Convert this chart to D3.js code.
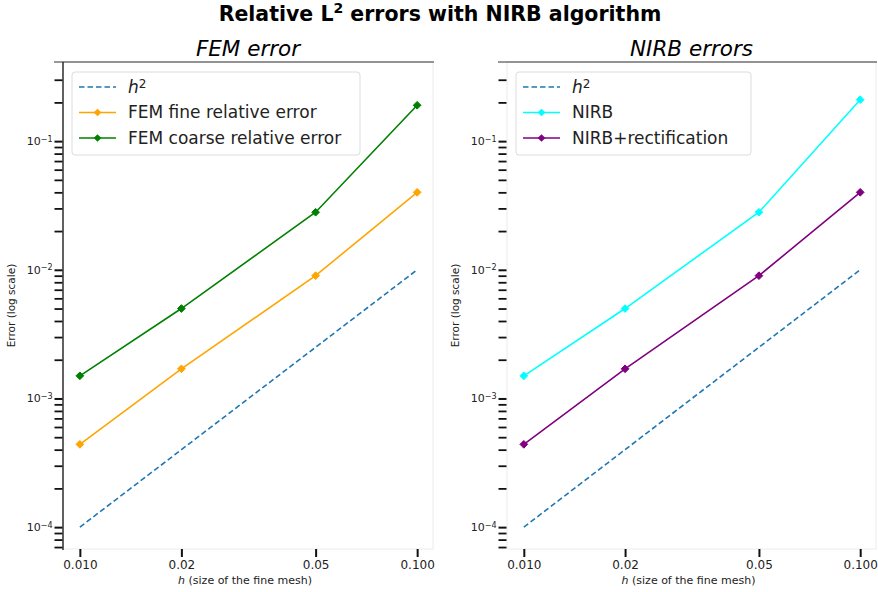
<!DOCTYPE html>
<html>
<head>
<meta charset="utf-8">
<script src="https://cdn.jsdelivr.net/npm/d3@7"></script>
<style>
  body { margin: 0; background: #fff; }
  text { font-family: "DejaVu Sans", sans-serif; }
</style>
</head>
<body>
<svg id="chart"></svg>
<script>
// mesh sizes (x values)
const hValues = [0.01, 0.02, 0.05, 0.1];
const xTickValues = [0.01, 0.02, 0.05, 0.1];
const xTickLabels = ["0.010", "0.02", "0.05", "0.100"];

// series
const h2Values = [1e-4, 4e-4, 2.5e-3, 1e-2];
const femFine = [4.4e-4, 1.7e-3, 9.0e-3, 4.0e-2];
const femCoarse = [1.5e-3, 5.0e-3, 2.8e-2, 0.19];
const nirb = [1.5e-3, 5.0e-3, 2.8e-2, 0.21];
const nirbRect = [4.4e-4, 1.7e-3, 9.0e-3, 4.0e-2];

const yMajorTicks = [1e-4, 1e-3, 1e-2, 1e-1];
const yMajorExp = ["−4", "−3", "−2", "−1"];

const panels = [
  {
    title: "FEM error",
    left: 63,
    right: 433,
    blackLeftSpine: true,
    series: [
      { label: "h2", values: h2Values, color: "#1f77b4", dashed: true },
      { label: "FEM fine relative error", values: femFine, color: "orange" },
      { label: "FEM coarse relative error", values: femCoarse, color: "green" },
    ],
    legendWidth: 288,
  },
  {
    title: "NIRB errors",
    left: 507,
    right: 876,
    blackLeftSpine: false,
    series: [
      { label: "h2", values: h2Values, color: "#1f77b4", dashed: true },
      { label: "NIRB", values: nirb, color: "cyan" },
      { label: "NIRB+rectification", values: nirbRect, color: "purple" },
    ],
    legendWidth: 235,
  },
];

const W = 878, H = 592;
const plotTop = 62, plotBottom = 549;

const svg = d3.select("#chart").attr("width", W).attr("height", H);

// main title
const title = svg.append("text")
  .attr("x", 440)
  .attr("y", 21)
  .attr("text-anchor", "middle")
  .style("font-size", "20.5px")
  .style("font-weight", "bold");
title.append("tspan").text("Relative L");
title.append("tspan").attr("dy", -8).style("font-size", "14px").text("2");
title.append("tspan").attr("dy", 8).text(" errors with NIRB algorithm");

function drawPanel(p) {
  // x: log domain matched to tick positions 0.010 -> left+17, 0.100 -> right-16
  const xscale = d3.scaleLog()
    .domain([Math.pow(10, -2.05), Math.pow(10, -0.953)])
    .range([p.left, p.right]);
  const yscale = d3.scaleLog()
    .domain([Math.pow(10, -4.17), Math.pow(10, -0.385)])
    .range([plotBottom, plotTop]);

  const g = svg.append("g");

  // faint frame (right + bottom + maybe left)
  g.append("rect")
    .attr("x", p.left).attr("y", plotTop)
    .attr("width", p.right - p.left).attr("height", plotBottom - plotTop)
    .attr("fill", "none").attr("stroke", "#ececec").attr("stroke-width", 1);
  // top spine
  g.append("line")
    .attr("x1", p.left - 9).attr("x2", p.right + 1)
    .attr("y1", plotTop).attr("y2", plotTop)
    .attr("stroke", "#333").attr("stroke-width", 1.2);
  if (p.blackLeftSpine) {
    g.append("line")
      .attr("x1", p.left).attr("x2", p.left)
      .attr("y1", plotTop).attr("y2", plotBottom + 1)
      .attr("stroke", "#222").attr("stroke-width", 1.4);
  }

  // y axis: major + minor ticks
  const minor = [];
  for (let e = -5; e <= 0; e++) {
    for (let m = 2; m <= 9; m++) {
      const v = m * Math.pow(10, e);
      const py = yscale(v);
      if (py > plotTop + 3 && py < plotBottom) minor.push(v);
    }
  }
  const yaxisMinor = d3.axisLeft(yscale).tickValues(minor).tickSize(8).tickFormat("");
  const gyMinor = g.append("g").attr("transform", `translate(${p.left - 0.5},0)`).call(yaxisMinor);
  gyMinor.select(".domain").remove();
  gyMinor.selectAll("line").attr("stroke", "#111").attr("stroke-width", 1.8);

  const yaxis = d3.axisLeft(yscale).tickValues(yMajorTicks).tickSize(8).tickFormat("");
  const gy = g.append("g").attr("transform", `translate(${p.left - 0.5},0)`).call(yaxis);
  gy.select(".domain").remove();
  gy.selectAll("line").attr("stroke", "#111").attr("stroke-width", 2);
  gy.selectAll(".tick").each(function (d, i) {
    const t = d3.select(this).append("text")
      .attr("x", -10).attr("dy", "0.32em")
      .attr("text-anchor", "end")
      .attr("fill", "#222")
      .style("font-size", "11px");
    t.append("tspan").text("10");
    t.append("tspan").attr("dy", "-0.45em").style("font-size", "8px").text(yMajorExp[i]);
  });

  // x axis
  const xaxis = d3.axisBottom(xscale).tickValues(xTickValues).tickSize(8)
    .tickFormat((d, i) => xTickLabels[i]);
  const gx = g.append("g").attr("transform", `translate(0,${plotBottom})`).call(xaxis);
  gx.select(".domain").remove();
  gx.selectAll("line").attr("stroke", "#111").attr("stroke-width", 2);
  gx.selectAll("text")
    .attr("y", 11).attr("fill", "#222")
    .style("font-size", "12px");

  // axis labels
  const xl = g.append("text")
    .attr("x", (p.left + p.right) / 2 - 3)
    .attr("y", 584)
    .attr("text-anchor", "middle")
    .attr("fill", "#222")
    .style("font-size", "11px");
  xl.append("tspan").style("font-style", "italic").text("h");
  xl.append("tspan").text(" (size of the fine mesh)");

  g.append("text")
    .attr("transform", `translate(${p.left - 48},${(plotTop + plotBottom) / 2}) rotate(-90)`)
    .attr("text-anchor", "middle")
    .attr("fill", "#222")
    .style("font-size", "10.5px")
    .text("Error (log scale)");

  // subplot title
  g.append("text")
    .attr("x", (p.left + p.right) / 2)
    .attr("y", 56)
    .attr("text-anchor", "middle")
    .style("font-size", "21.5px")
    .style("font-style", "italic")
    .text(p.title);

  // lines
  const line = d3.line()
    .x((d) => xscale(d[0]))
    .y((d) => yscale(d[1]));

  const diamond = d3.symbol().type(d3.symbolDiamond2).size(38);

  p.series.forEach((s) => {
    const pts = hValues.map((h, i) => [h, s.values[i]]);
    g.append("path")
      .datum(pts)
      .attr("d", line)
      .attr("fill", "none")
      .attr("stroke", s.color)
      .attr("stroke-width", 1.6)
      .attr("stroke-dasharray", s.dashed ? "5.5,3" : null);
    if (!s.dashed) {
      g.selectAll(null)
        .data(pts)
        .join("path")
        .attr("d", diamond)
        .attr("transform", (d) => `translate(${xscale(d[0])},${yscale(d[1])})`)
        .attr("fill", s.color)
        .attr("stroke", s.color)
        .attr("stroke-width", 1);
    }
  });

  // legend
  const lx = p.left + 9, ly = 72;
  const lg = g.append("g").attr("transform", `translate(${lx},${ly})`);
  lg.append("rect")
    .attr("width", p.legendWidth).attr("height", 83)
    .attr("rx", 3)
    .attr("fill", "white").attr("fill-opacity", 0.8)
    .attr("stroke", "#dcdcdc");
  p.series.forEach((s, i) => {
    const cy = 15 + i * 25.5;
    lg.append("line")
      .attr("x1", 7).attr("x2", 44)
      .attr("y1", cy).attr("y2", cy)
      .attr("stroke", s.color).attr("stroke-width", 1.6)
      .attr("stroke-dasharray", s.dashed ? "5.5,3" : null);
    if (!s.dashed) {
      lg.append("path")
        .attr("d", diamond)
        .attr("transform", `translate(25.5,${cy})`)
        .attr("fill", s.color);
    }
    const t = lg.append("text")
      .attr("x", 56).attr("y", cy).attr("dy", "0.35em")
      .attr("fill", "#222")
      .style("font-size", "17px");
    if (s.label === "h2") {
      t.append("tspan").style("font-style", "italic").text("h");
      t.append("tspan").attr("dy", "-0.45em").style("font-size", "12px").text("2");
    } else {
      t.text(s.label);
    }
  });
}

panels.forEach(drawPanel);
</script>
</body>
</html>
